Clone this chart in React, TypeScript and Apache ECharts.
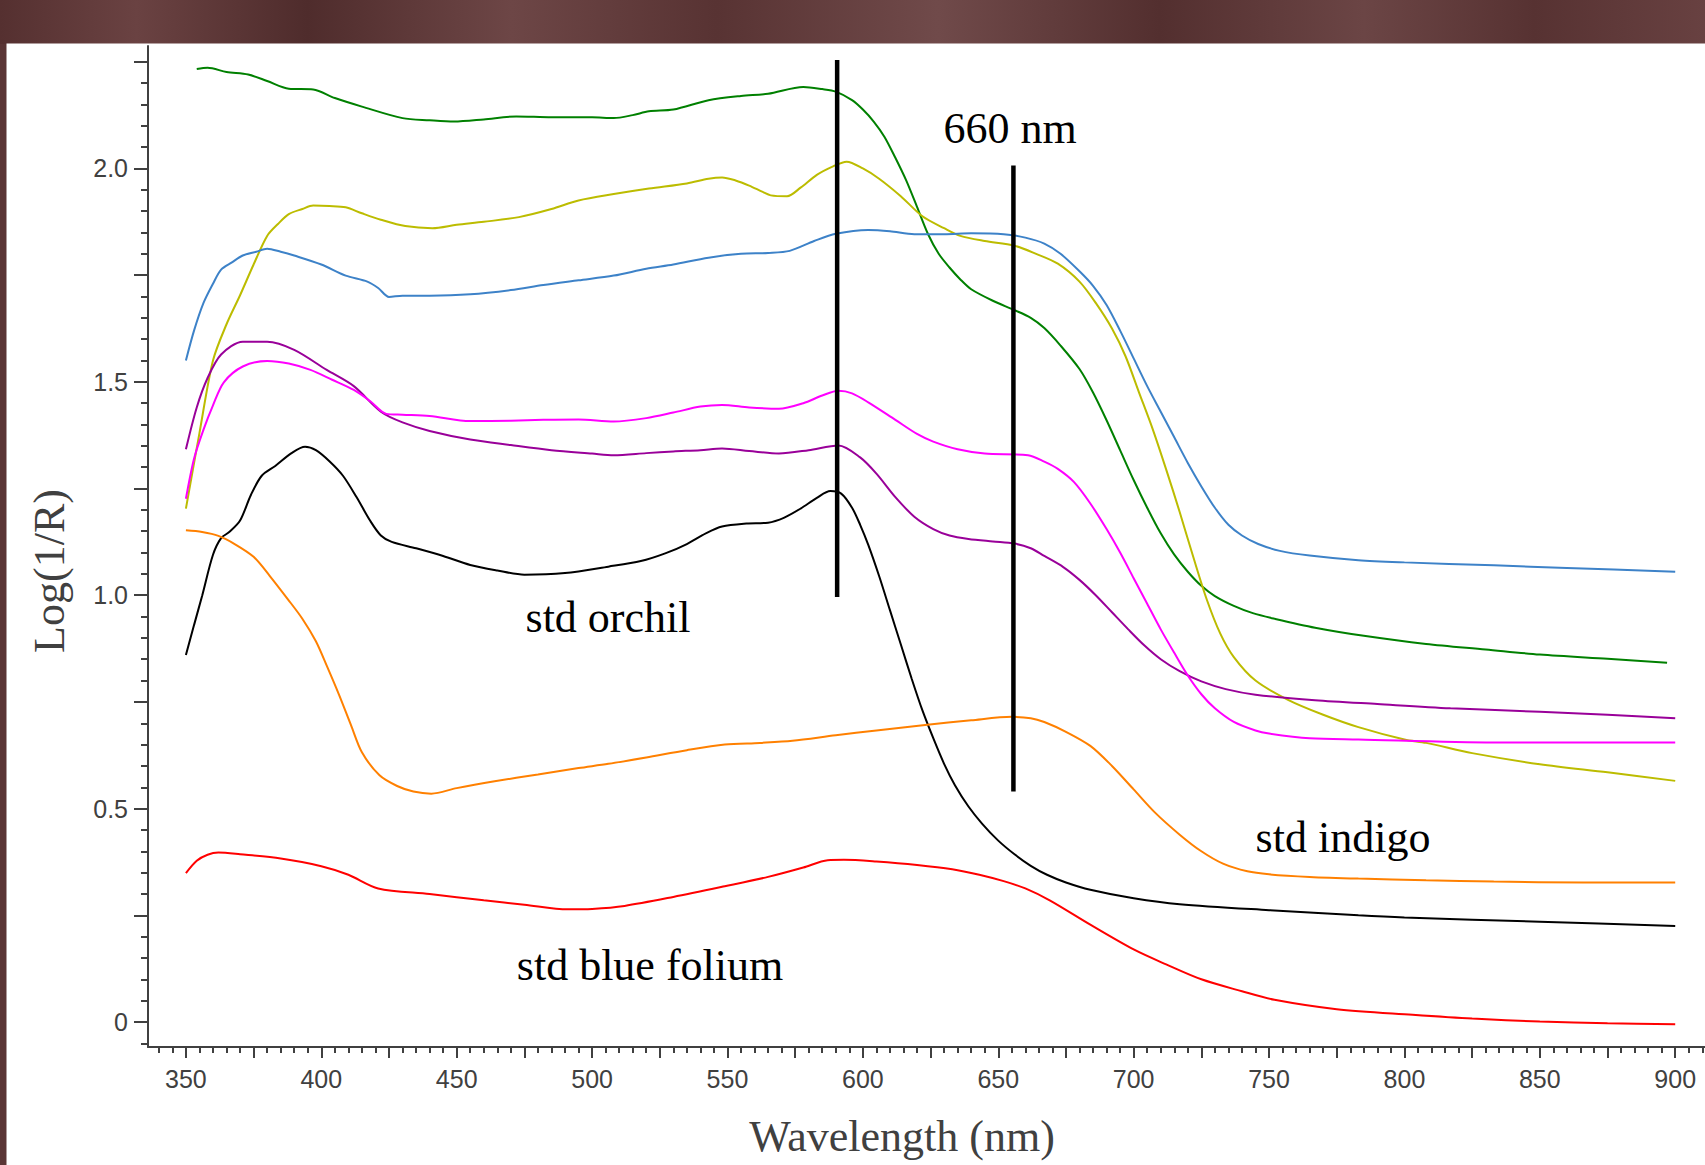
import React, { useEffect, useRef } from "react";
import * as echarts from "echarts";

// ---------- data ----------
const xLabelValues = [350, 400, 450, 500, 550, 600, 650, 700, 750, 800, 850, 900];
const yLabelValues = [0, 0.5, 1.0, 1.5, 2.0];

const greenCurve: [number, number][] = [
  [354, 2.233], [358, 2.236], [365, 2.226], [373, 2.22], [380, 2.205], [388, 2.187], [397, 2.185],
  [405, 2.165], [415, 2.145], [430, 2.118], [440, 2.113], [449, 2.11], [460, 2.115], [472, 2.122],
  [485, 2.12], [500, 2.12], [508, 2.118], [515, 2.125], [521, 2.134], [530, 2.138], [543, 2.16],
  [555, 2.17], [565, 2.175], [578, 2.191], [585, 2.186], [590, 2.18], [596, 2.16], [600, 2.138],
  [604, 2.11], [608, 2.074], [612, 2.025], [616, 1.972], [620, 1.91], [624, 1.847], [628, 1.8],
  [632, 1.768], [636, 1.74], [640, 1.717], [648, 1.69], [656, 1.668], [662, 1.65], [667, 1.626],
  [673, 1.585], [680, 1.53], [685, 1.475], [690, 1.41], [695, 1.34], [700, 1.27], [705, 1.205],
  [710, 1.145], [715, 1.095], [720, 1.055], [725, 1.022], [730, 0.998], [737, 0.975], [744, 0.958],
  [752, 0.945], [767, 0.924], [785, 0.905], [808, 0.886], [830, 0.873], [850, 0.861], [875, 0.851],
  [897, 0.842],
];

const yellowCurve: [number, number][] = [
  [350, 1.203], [355, 1.38], [360, 1.55], [365, 1.635], [370, 1.703], [375, 1.775], [380, 1.842],
  [384, 1.87], [388, 1.893], [393, 1.905], [397, 1.913], [403, 1.912], [409, 1.909], [415, 1.895],
  [422, 1.88], [431, 1.865], [441, 1.86], [450, 1.868], [460, 1.875], [473, 1.886], [485, 1.905],
  [495, 1.925], [508, 1.94], [521, 1.953], [535, 1.965], [543, 1.976], [548, 1.979], [553, 1.972],
  [558, 1.96], [563, 1.945], [566, 1.937], [572, 1.935], [577, 1.955], [583, 1.985], [589, 2.005],
  [594, 2.016], [600, 2.0], [606, 1.976], [614, 1.935], [622, 1.888], [630, 1.86], [636, 1.842],
  [645, 1.83], [656, 1.819], [664, 1.8], [672, 1.777], [680, 1.735], [686, 1.685], [692, 1.625],
  [697, 1.56], [702, 1.475], [707, 1.39], [712, 1.295], [717, 1.195], [722, 1.09], [727, 0.99],
  [732, 0.91], [737, 0.855], [745, 0.8], [757, 0.755], [770, 0.72], [783, 0.691],
  [800, 0.662], [808, 0.654], [825, 0.63], [850, 0.604], [875, 0.585], [900, 0.565],
];

const blueCurve: [number, number][] = [
  [350, 1.55], [353, 1.62], [356.5, 1.685], [360, 1.73], [363, 1.763], [367, 1.78], [371, 1.796],
  [376, 1.805], [380, 1.812], [385, 1.805], [390, 1.796], [400, 1.775], [409, 1.749], [417, 1.735],
  [421, 1.72], [425, 1.699], [430, 1.702], [440, 1.702], [455, 1.705], [470, 1.715], [482, 1.727],
  [495, 1.738], [508, 1.749], [520, 1.765], [530, 1.775], [543, 1.791], [555, 1.8], [565, 1.802],
  [573, 1.807], [582, 1.83], [590, 1.847], [602, 1.856], [610, 1.853], [619, 1.846], [630, 1.846],
  [640, 1.848], [652, 1.846], [660, 1.838], [667, 1.824], [673, 1.8], [680, 1.759], [685, 1.725],
  [690, 1.68], [695, 1.62], [700, 1.555], [705, 1.49], [710, 1.43], [715, 1.37], [720, 1.31],
  [725, 1.255], [730, 1.205], [735, 1.165], [740, 1.14], [746, 1.12], [754, 1.104], [765, 1.093],
  [783, 1.082], [800, 1.077], [833, 1.07], [860, 1.064], [900, 1.055],
];

const purpleCurve: [number, number][] = [
  [350, 1.342], [354, 1.44], [358, 1.509], [363, 1.564], [371, 1.594], [380, 1.594], [390, 1.575],
  [402, 1.528], [412, 1.49], [422, 1.43], [430, 1.405], [440, 1.385], [455, 1.365], [470, 1.352],
  [485, 1.34], [500, 1.332], [508, 1.328], [520, 1.333], [530, 1.337], [540, 1.34], [548, 1.344],
  [558, 1.338], [569, 1.332], [580, 1.34], [591, 1.351], [599, 1.323], [605, 1.285], [612, 1.23],
  [619, 1.184], [626, 1.155], [632, 1.14], [639, 1.132], [648, 1.126], [656, 1.121], [662, 1.11],
  [667, 1.092], [674, 1.066], [680, 1.036], [686, 1.0], [692, 0.96], [698, 0.92], [704, 0.882],
  [710, 0.85], [717, 0.822], [725, 0.798], [734, 0.78], [745, 0.767], [767, 0.754], [790, 0.745],
  [817, 0.735], [850, 0.727], [875, 0.72], [900, 0.712],
];

const magentaCurve: [number, number][] = [
  [350, 1.226], [353, 1.32], [356.5, 1.388], [360, 1.445], [364, 1.499], [371, 1.536], [380, 1.549],
  [388, 1.543], [396, 1.528], [404, 1.505], [412, 1.481], [418, 1.455], [424, 1.425], [430, 1.423],
  [440, 1.42], [455, 1.408], [470, 1.409], [482, 1.411], [495, 1.412], [508, 1.407], [520, 1.415],
  [530, 1.428], [540, 1.442], [548, 1.446], [558, 1.44], [569, 1.437], [578, 1.45], [585, 1.468],
  [591, 1.479], [596, 1.473], [602, 1.452], [612, 1.411], [620, 1.378], [626, 1.36], [635, 1.342],
  [645, 1.332], [661, 1.328], [667, 1.313], [672, 1.296], [678, 1.265], [684, 1.215], [690, 1.155],
  [695, 1.1], [700, 1.04], [705, 0.98], [710, 0.92], [715, 0.865], [720, 0.812], [725, 0.768],
  [730, 0.735], [737, 0.703], [745, 0.683], [750, 0.676], [765, 0.665], [783, 0.662], [833, 0.655],
  [900, 0.655],
];

const orchilCurve: [number, number][] = [
  [350, 0.86], [353, 0.93], [356, 0.999], [360, 1.095], [363, 1.134], [366, 1.148], [370, 1.175],
  [374, 1.235], [378, 1.28], [383, 1.303], [389, 1.333], [394, 1.348], [398, 1.34], [403, 1.314],
  [408, 1.28], [413, 1.23], [418, 1.175], [422, 1.14], [426, 1.125], [435, 1.11], [445, 1.092],
  [455, 1.071], [465, 1.058], [475, 1.048], [490, 1.052], [506, 1.067], [518, 1.08], [527, 1.098],
  [535, 1.12], [542, 1.145], [548, 1.161], [557, 1.168], [565, 1.17], [571, 1.182], [577, 1.203],
  [583, 1.228], [588, 1.244], [592, 1.238], [596, 1.205], [599, 1.165], [602, 1.118], [606, 1.045],
  [610, 0.965], [614, 0.885], [618, 0.805], [622, 0.73], [626, 0.665], [630, 0.605], [634, 0.555],
  [639, 0.505], [644, 0.465], [650, 0.425], [656, 0.393], [662, 0.366], [668, 0.345], [675, 0.327],
  [684, 0.31], [700, 0.29], [717, 0.276], [750, 0.262], [783, 0.25], [800, 0.245], [850, 0.235],
  [900, 0.225],
];

const indigoCurve: [number, number][] = [
  [350, 1.152], [356, 1.148], [362, 1.139], [368, 1.12], [375, 1.09], [381, 1.045], [387.6, 0.991],
  [393, 0.945], [398, 0.892], [402, 0.835], [406.6, 0.766], [411, 0.695], [415, 0.632], [421.5, 0.578],
  [428, 0.553], [434, 0.54], [440.6, 0.535], [450, 0.548], [464, 0.564], [480, 0.58], [495, 0.595],
  [506, 0.605], [520, 0.62], [535, 0.637], [549, 0.65], [562, 0.654], [574, 0.659], [590, 0.672],
  [605, 0.683], [623, 0.696], [640, 0.707], [655, 0.715], [662, 0.712], [667, 0.703], [675, 0.68],
  [684, 0.647], [692, 0.6], [700, 0.545], [708, 0.49], [717, 0.439], [725, 0.4], [733, 0.371],
  [742, 0.353], [750, 0.346], [765, 0.34], [783, 0.336], [808, 0.332], [833, 0.329], [866, 0.327],
  [900, 0.327],
];

const foliumCurve: [number, number][] = [
  [350, 0.349], [354, 0.378], [358, 0.392], [362, 0.397], [370, 0.393], [385, 0.383], [400, 0.365],
  [410, 0.345], [421, 0.313], [440, 0.3], [460, 0.285], [475, 0.275], [491, 0.264], [500, 0.265],
  [512, 0.272], [530, 0.293], [549, 0.318], [565, 0.34], [578, 0.362], [587, 0.379], [593, 0.38],
  [605, 0.376], [620, 0.368], [633, 0.358], [643, 0.345], [652, 0.33], [660, 0.313], [669, 0.285],
  [684, 0.228], [700, 0.17], [712, 0.135], [725, 0.1], [740, 0.072], [752, 0.052], [775, 0.03],
  [803, 0.017], [825, 0.008], [850, 0.001], [875, -0.003], [900, -0.005],
];

const marker590: [number, number][] = [[590.5, 0.996], [590.5, 2.254]];
const marker660: [number, number][] = [[655.6, 0.54], [655.6, 2.007]];

const seriesDefs = [
  { name: "green", data: greenCurve, color: "#008000" },
  { name: "yellow", data: yellowCurve, color: "#bcbc00" },
  { name: "blue", data: blueCurve, color: "#3d82c8" },
  { name: "purple", data: purpleCurve, color: "#990099" },
  { name: "magenta", data: magentaCurve, color: "#ff00ff" },
  { name: "std orchil", data: orchilCurve, color: "#000000" },
  { name: "std indigo", data: indigoCurve, color: "#ff8000" },
  { name: "std blue folium", data: foliumCurve, color: "#ff0000" },
];

// tick positions
const X_MIN = 336;
const X_MAX = 911;
const Y_MIN = -0.0586;
const Y_MAX = 2.287;
const xShortTicks: number[] = [];
for (let v = 340; v <= 910; v += 5) xShortTicks.push(v);
const xLongTicks: number[] = [];
for (let v = 350; v <= 900; v += 25) xLongTicks.push(v);
const yShortTicks: number[] = [];
for (let i = -1; i <= 45; i++) yShortTicks.push(Math.round(i * 5) / 100);
const yLongTicks: number[] = [];
for (let i = 0; i <= 9; i++) yLongTicks.push(i * 0.25);

const AXIS_COLOR = "#404040";
const SANS = "'Liberation Sans', Arial, sans-serif";
const SERIF = "'Liberation Serif', 'Times New Roman', serif";

export default function App() {
  const ref = useRef<HTMLDivElement>(null);

  useEffect(() => {
    if (!ref.current) return;
    const chart = echarts.init(ref.current, undefined, { renderer: "svg" });

    const baseX = {
      type: "value" as const,
      min: X_MIN,
      max: X_MAX,
      position: "bottom" as const,
      splitLine: { show: false },
    };
    const baseY = {
      type: "value" as const,
      min: Y_MIN,
      max: Y_MAX,
      position: "left" as const,
      splitLine: { show: false },
    };

    const option: any = {
      animation: false,
      backgroundColor: "#5a3535",
      grid: { left: 148, right: 0, top: 46, bottom: 1165 - 1047, containLabel: false },
      xAxis: [
        {
          ...baseX,
          axisLine: { show: true, onZero: false, lineStyle: { color: AXIS_COLOR, width: 2 } },
          axisTick: { show: true, customValues: xShortTicks, length: 6, lineStyle: { color: AXIS_COLOR, width: 2 } },
          axisLabel: { show: false },
        },
        {
          ...baseX,
          axisLine: { show: false, onZero: false },
          axisTick: { show: true, customValues: xLongTicks, length: 11, lineStyle: { color: AXIS_COLOR, width: 2 } },
          axisLabel: {
            show: true,
            customValues: xLabelValues,
            margin: 19,
            fontSize: 25,
            color: AXIS_COLOR,
            fontFamily: SANS,
          },
        },
      ],
      yAxis: [
        {
          ...baseY,
          axisLine: { show: true, onZero: false, lineStyle: { color: AXIS_COLOR, width: 2 } },
          axisTick: { show: true, customValues: yShortTicks, length: 7, lineStyle: { color: AXIS_COLOR, width: 2 } },
          axisLabel: { show: false },
        },
        {
          ...baseY,
          axisLine: { show: false, onZero: false },
          axisTick: { show: true, customValues: yLongTicks, length: 14, lineStyle: { color: AXIS_COLOR, width: 2 } },
          axisLabel: {
            show: true,
            customValues: yLabelValues,
            margin: 20,
            fontSize: 25,
            color: AXIS_COLOR,
            fontFamily: SANS,
            formatter: (v: number) => (v === 0 ? "0" : v.toFixed(1)),
          },
        },
      ],
      graphic: [
        {
          type: "rect",
          z: -10,
          shape: { x: 0, y: 0, width: 1705, height: 44 },
          style: {
            fill: new echarts.graphic.LinearGradient(0, 0, 1, 0, [
              { offset: 0, color: "#553030" },
              { offset: 0.08, color: "#6a4242" },
              { offset: 0.18, color: "#4f2c2c" },
              { offset: 0.3, color: "#6d4646" },
              { offset: 0.42, color: "#583333" },
              { offset: 0.55, color: "#704a4a" },
              { offset: 0.68, color: "#532f2f" },
              { offset: 0.8, color: "#6b4545" },
              { offset: 0.9, color: "#573232" },
              { offset: 1, color: "#684141" },
            ]),
          },
          silent: true,
        },
        {
          type: "rect",
          z: -9,
          shape: { x: 6.5, y: 43.5, width: 1705 - 6.5, height: 1165 - 43.5 },
          style: { fill: "#ffffff" },
          silent: true,
        },
        {
          type: "text",
          x: 902,
          y: 1136,
          style: {
            text: "Wavelength (nm)",
            font: `44px ${SERIF}`,
            fill: "#404040",
            align: "center",
            verticalAlign: "middle",
          },
        },
        {
          type: "text",
          x: 49,
          y: 571,
          rotation: Math.PI / 2,
          style: {
            text: "Log(1/R)",
            font: `44px ${SERIF}`,
            fill: "#404040",
            align: "center",
            verticalAlign: "middle",
          },
        },
        {
          type: "text",
          x: 1010,
          y: 128,
          style: { text: "660 nm", font: `44px ${SERIF}`, fill: "#000", align: "center", verticalAlign: "middle" },
        },
        {
          type: "text",
          x: 608,
          y: 617,
          style: { text: "std orchil", font: `44px ${SERIF}`, fill: "#000", align: "center", verticalAlign: "middle" },
        },
        {
          type: "text",
          x: 1343,
          y: 837,
          style: { text: "std indigo", font: `44px ${SERIF}`, fill: "#000", align: "center", verticalAlign: "middle" },
        },
        {
          type: "text",
          x: 650,
          y: 965,
          style: { text: "std blue folium", font: `44px ${SERIF}`, fill: "#000", align: "center", verticalAlign: "middle" },
        },
      ],
      series: [
        ...seriesDefs.map((s) => ({
          name: s.name,
          type: "line",
          xAxisIndex: 0,
          yAxisIndex: 0,
          data: s.data,
          showSymbol: false,
          smooth: 0.3,
          lineStyle: { color: s.color, width: 2 },
          itemStyle: { color: s.color },
          z: 3,
        })),
        ...[marker590, marker660].map((m, i) => ({
          name: `marker${i}`,
          type: "line",
          xAxisIndex: 0,
          yAxisIndex: 0,
          data: m,
          showSymbol: false,
          lineStyle: { color: "#000", width: 4.5 },
          z: 5,
        })),
      ],
    };

    chart.setOption(option);
    return () => chart.dispose();
  }, []);

  return (
    <div
      ref={ref}
      style={{ position: "absolute", left: 0, top: 0, width: 1705, height: 1165 }}
    />
  );
}
